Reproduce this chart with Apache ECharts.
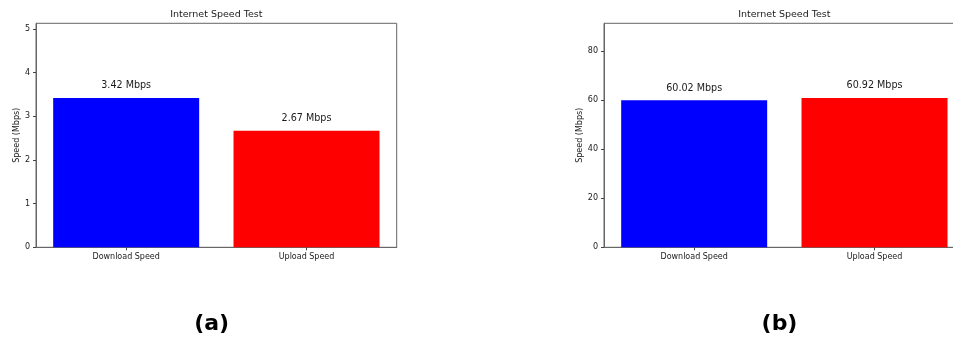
<!DOCTYPE html>
<html>
<head>
<meta charset="utf-8">
<script src="https://cdn.jsdelivr.net/npm/echarts@6/dist/echarts.min.js"></script>
<style>
html,body{margin:0;padding:0;background:#fff;overflow:hidden;width:953px;height:343px;}
#c{width:975px;height:343px;}
</style>
</head>
<body>
<div id="c"></div>
<script>
const categories = ['Download Speed', 'Upload Speed'];
const speedsA = [3.42, 2.67];
const speedsB = [60.02, 60.92];
const ticksA = [0, 1, 2, 3, 4, 5];
const ticksB = [0, 20, 40, 60, 80];
const titleText = 'Internet Speed Test';
const panelLabels = ['(a)', '(b)'];
const yName = 'Speed (Mbps)';
const barColors = ['#0000ff', '#ff0000'];

const FONT = 'DejaVu Sans';
const TXT = '#1a1a1a';
const FRAME = '#666';

function yAxis(gridIndex, ticks, max, interval) {
  return {
    type: 'value', gridIndex, min: 0, max, interval,
    name: yName, nameLocation: 'middle', nameGap: 14.5, nameRotate: 90,
    nameTextStyle: { fontFamily: FONT, fontSize: 8, color: TXT },
    axisLine: { show: true, lineStyle: { color: FRAME, width: 1 } },
    axisTick: { show: true, length: 3, lineStyle: { color: '#444' }, customValues: ticks },
    axisLabel: { fontFamily: FONT, fontSize: 8, color: TXT, margin: 6, customValues: ticks },
    splitLine: { show: false }
  };
}
function xAxis(gridIndex) {
  return {
    type: 'category', gridIndex, data: categories, boundaryGap: true,
    axisLine: { show: true, lineStyle: { color: FRAME, width: 1 } },
    axisTick: { show: true, alignWithLabel: true, length: 3, lineStyle: { color: '#444' } },
    axisLabel: { fontFamily: FONT, fontSize: 8, color: TXT, margin: 6 }
  };
}
function barSeries(idx, vals) {
  return {
    type: 'bar', xAxisIndex: idx, yAxisIndex: idx, barWidth: 146,
    data: vals.map((v, i) => ({ value: v, itemStyle: { color: barColors[i] } })),
    label: {
      show: true, position: 'top', distance: 7,
      fontFamily: FONT, fontSize: 9.6, color: TXT,
      formatter: p => p.value.toFixed(2) + ' Mbps'
    },
    silent: true, animation: false
  };
}

const chart = echarts.init(document.getElementById('c'), null, { renderer: 'canvas' });
chart.setOption({
  backgroundColor: '#fff',
  animation: false,
  title: [
    { text: titleText, left: 216.3, top: 10, textAlign: 'center', padding: 0,
      textStyle: { fontFamily: FONT, fontSize: 9.5, fontWeight: 'normal', color: TXT } },
    { text: titleText, left: 784.3, top: 10, textAlign: 'center', padding: 0,
      textStyle: { fontFamily: FONT, fontSize: 9.5, fontWeight: 'normal', color: TXT } },
    { text: panelLabels[0], left: 211.7, top: 313, textAlign: 'center', padding: 0,
      textStyle: { fontFamily: FONT, fontSize: 22, fontWeight: 'bold', color: '#000' } },
    { text: panelLabels[1], left: 779.5, top: 313, textAlign: 'center', padding: 0,
      textStyle: { fontFamily: FONT, fontSize: 22, fontWeight: 'bold', color: '#000' } }
  ],
  grid: [
    { left: 36, top: 23.3, width: 360.7, height: 224, show: true, borderColor: FRAME, borderWidth: 1, backgroundColor: '#fff', containLabel: false },
    { left: 604, top: 23.3, width: 360.7, height: 224, show: true, borderColor: FRAME, borderWidth: 1, backgroundColor: '#fff', containLabel: false }
  ],
  xAxis: [xAxis(0), xAxis(1)],
  yAxis: [yAxis(0, ticksA, 5.13, 1), yAxis(1, ticksB, 91.38, 20)],
  series: [barSeries(0, speedsA), barSeries(1, speedsB)]
});
</script>
</body>
</html>
